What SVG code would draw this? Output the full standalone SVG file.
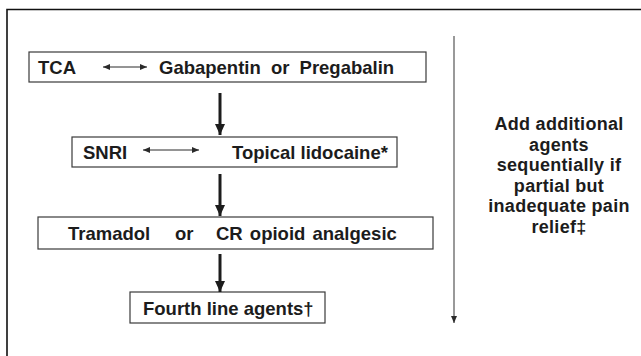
<svg xmlns="http://www.w3.org/2000/svg" width="641" height="356" viewBox="0 0 641 356">
<style>
  .box { fill: #ffffff; stroke: #3a3a3a; stroke-width: 1.2; }
  .t { font-family: "Liberation Sans", Arial, sans-serif; font-weight: bold; font-size: 18.5px; fill: #1c1c1c; }
  .side { font-family: "Liberation Sans", Arial, sans-serif; font-weight: bold; font-size: 18px; fill: #1c1c1c; text-anchor: middle; letter-spacing: 0.3px; }
  .thick { stroke: #1c1c1c; stroke-width: 3; fill: none; }
  .thin { stroke: #2a2a2a; stroke-width: 1; fill: none; }
  .side-line { stroke: #555555; stroke-width: 1.2; fill: none; }
</style>
<defs>
  <marker id="smallHead" markerUnits="userSpaceOnUse" markerWidth="7" markerHeight="6" refX="7" refY="3" orient="auto-start-reverse" viewBox="0 0 7 6">
    <path d="M0,0 L7,3 L0,6 Z" fill="#2a2a2a"/>
  </marker>
  <marker id="downHead" markerUnits="userSpaceOnUse" markerWidth="11" markerHeight="10" refX="11" refY="5" orient="auto" viewBox="0 0 11 10">
    <path d="M0,0 L11,5 L0,10 Z" fill="#1c1c1c"/>
  </marker>
</defs>
<rect width="641" height="356" fill="#ffffff"/>
<path d="M7,356 V9.5 H641" fill="none" stroke="#111111" stroke-width="1.6"/>

<g id="node-1">
  <rect class="box" x="29" y="52" width="397" height="30"/>
  <text class="t" x="38" y="74">TCA</text>
  <text class="t" x="159" y="74" word-spacing="5">Gabapentin or Pregabalin</text>
</g>
<g id="node-2">
  <rect class="box" x="72" y="137" width="325" height="30"/>
  <text class="t" x="83" y="159">SNRI</text>
  <text class="t" x="232" y="159">Topical lidocaine*</text>
</g>
<g id="node-3">
  <rect class="box" x="38" y="217" width="395" height="32"/>
  <text class="t" x="68" y="240">Tramadol</text>
  <text class="t" x="175" y="240">or</text>
  <text class="t" x="216" y="240" word-spacing="2">CR opioid analgesic</text>
</g>
<g id="node-4">
  <rect class="box" x="130" y="292" width="195" height="31"/>
  <text class="t" x="143" y="315">Fourth line agents†</text>
</g>
<g id="side-note">
  <text class="side" x="559" y="130">Add additional</text>
  <text class="side" x="559" y="150.6">agents</text>
  <text class="side" x="559" y="171.2">sequentially if</text>
  <text class="side" x="559" y="191.8">partial but</text>
  <text class="side" x="559" y="212.4">inadequate pain</text>
  <text class="side" x="559" y="233">relief‡</text>
</g>

<g id="connectors">
  <line class="thick" x1="220" y1="93" x2="220" y2="135" marker-end="url(#downHead)"/>
  <line class="thick" x1="220" y1="174" x2="220" y2="216" marker-end="url(#downHead)"/>
  <line class="thick" x1="220" y1="254" x2="220" y2="292" marker-end="url(#downHead)"/>
  <line class="thin" x1="103" y1="67" x2="147" y2="67" marker-start="url(#smallHead)" marker-end="url(#smallHead)"/>
  <line class="thin" x1="143" y1="150" x2="199" y2="150" marker-start="url(#smallHead)" marker-end="url(#smallHead)"/>
  <line class="side-line" x1="454" y1="36" x2="454" y2="323" marker-end="url(#smallHead)"/>
</g>
</svg>
